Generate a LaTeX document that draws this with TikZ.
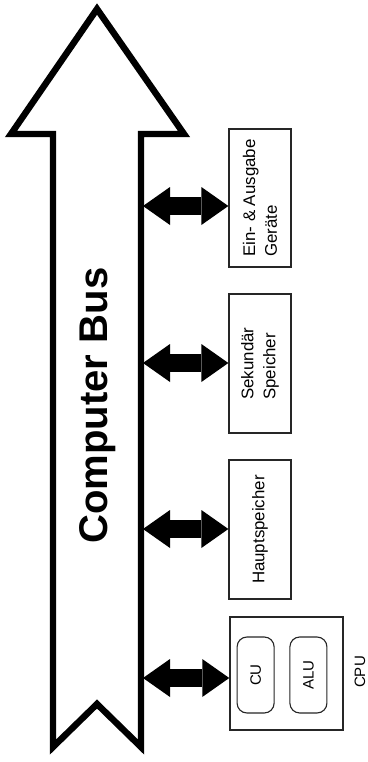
\documentclass[tikz,border=0pt]{standalone}
\usepackage{fontspec}
\setmainfont{Liberation Sans}
\usetikzlibrary{arrows.meta, positioning, calc}

\begin{document}
\begin{tikzpicture}[
          unitbox/.style={rectangle, draw=black!85, fill=white, line width=0.9pt, rotate=90, align=left, inner sep=2pt, font=\fontsize{12}{15.5}\selectfont},
          subunit/.style={rectangle, draw=black!85, fill=white, line width=0.8pt, rounded corners=7pt, rotate=90, font=\fontsize{10.7}{13}\selectfont},
          linkarrow/.style={line width=12.8pt, {Triangle[length=0.675cm, width=0.95cm, line width=0pt]}-{Triangle[length=0.675cm, width=0.95cm, line width=0pt]}}
        ]
        \useasboundingbox (0, 0) rectangle (9.175, -19.05);

        % ----------------------------------------------------
        % COMPUTER BUS (grosser Pfeil)
        % ----------------------------------------------------
        \draw[line width=4.6pt, fill=white] (2.425, -0.225) -- (4.6, -3.35) -- (3.525, -3.35) -- (3.525, -18.675)
          -- (2.425, -17.6) -- (1.325, -18.675) -- (1.325, -3.35) -- (0.275, -3.35) -- cycle;
        \node (bus) at (2.45, -10.14) [rotate=90, font=\fontsize{28.5}{34}\selectfont\bfseries] {Computer Bus};

        % ----------------------------------------------------
        % EINHEITEN
        % ----------------------------------------------------
        \node (io) at (6.5, -4.95) [unitbox, minimum width=3.45cm, minimum height=1.55cm] {Ein- \& Ausgabe\\Geräte};
        \node (sek) at (6.5, -9.09) [unitbox, minimum width=3.475cm, minimum height=1.55cm] {Sekundär\\Speicher};
        \node (haupt) at (6.5, -13.24) [unitbox, minimum width=3.475cm, minimum height=1.55cm] {Hauptspeicher};

        \node (cpu) at (7.16, -16.84) [rectangle, draw=black!85, line width=0.9pt, minimum width=2.825cm, minimum height=2.825cm] {};
        \node (cu) at (6.39, -16.875) [subunit, minimum width=1.9cm, minimum height=0.925cm] {CU};
        \node (alu) at (7.71, -16.875) [subunit, minimum width=1.9cm, minimum height=0.925cm] {ALU};
        \node (cpulabel) at (9.0, -16.8) [rotate=90, font=\fontsize{10.7}{13}\selectfont] {CPU};

        % ----------------------------------------------------
        % VERBINDUNGEN
        % ----------------------------------------------------
        \coordinate (b1) at (3.575, -5.15);
        \coordinate (b2) at (3.575, -9.075);
        \coordinate (b3) at (3.575, -13.225);
        \coordinate (b4) at (3.575, -16.95);

        \draw[linkarrow] (b1) -- (b1 -| io.north);
        \draw[linkarrow] (b2) -- (b2 -| sek.north);
        \draw[linkarrow] (b3) -- (b3 -| haupt.north);
        \draw[linkarrow] (b4) -- (b4 -| cpu.west);
      \end{tikzpicture}
\end{document}
